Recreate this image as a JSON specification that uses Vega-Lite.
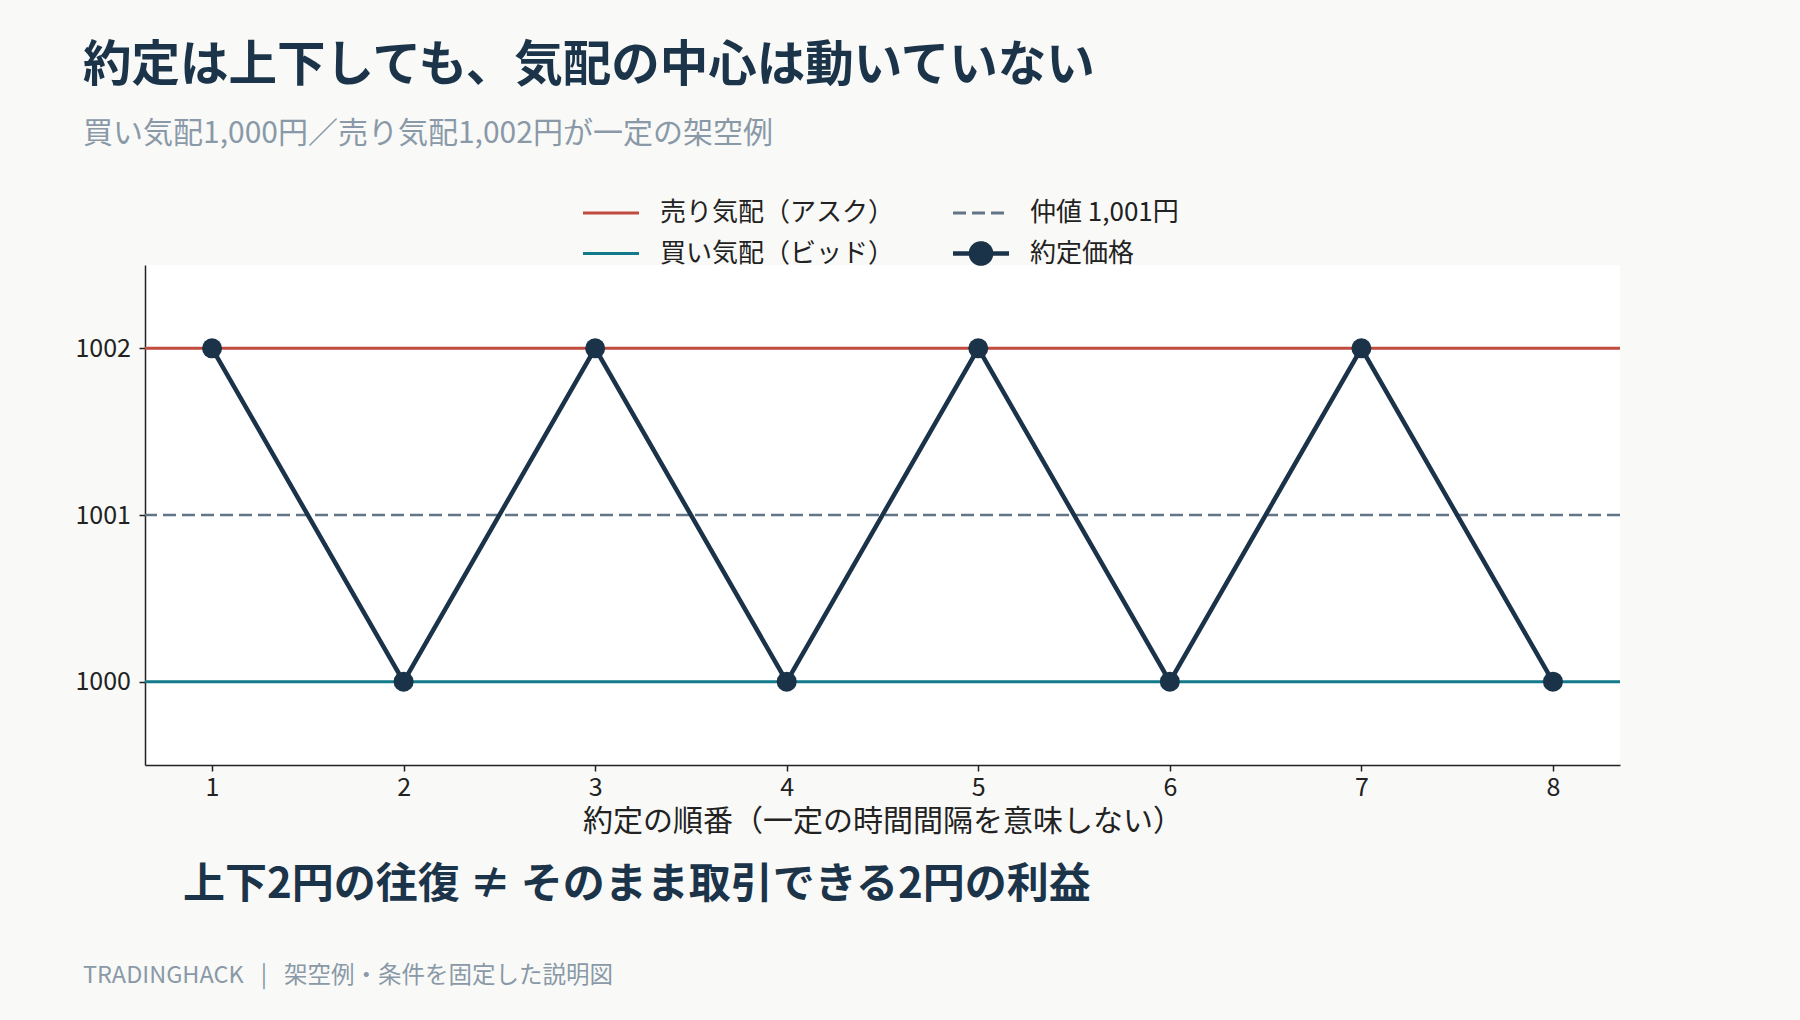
{
  "$schema": "https://vega.github.io/schema/vega-lite/v6.json",
  "width": 1475,
  "height": 500,
  "autosize": {"type": "none"},
  "padding": {"left": 145, "top": 265, "right": 180, "bottom": 255},
  "background": "#f9f9f7",
  "title": {
    "text": "約定は上下しても、気配の中心は動いていない",
    "subtitle": "買い気配1,000円／売り気配1,002円が一定の架空例",
    "anchor": "start",
    "frame": "group",
    "dx": -62,
    "offset": 50,
    "fontSize": 48.5,
    "fontWeight": "bold",
    "color": "#1b3449",
    "subtitleFontSize": 30,
    "subtitleColor": "#8a99a8",
    "subtitlePadding": 28
  },
  "config": {
    "font": "Noto Sans CJK JP",
    "view": {"fill": "#ffffff", "stroke": null},
    "axis": {
      "grid": false,
      "domainColor": "#222222",
      "domainWidth": 1.5,
      "tickColor": "#222222",
      "tickWidth": 1.5,
      "tickSize": 6,
      "labelFontSize": 25,
      "labelColor": "#222222",
      "labelFont": "Noto Sans CJK JP",
      "titleFontSize": 30,
      "titleFontWeight": "normal",
      "titleColor": "#222222"
    }
  },
  "datasets": {
    "levels": [
      {"series": "売り気配（アスク）", "price": 1002},
      {"series": "仲値 1,001円", "price": 1001},
      {"series": "買い気配（ビッド）", "price": 1000}
    ],
    "trades": [
      {"series": "約定価格", "n": 1, "price": 1002},
      {"series": "約定価格", "n": 2, "price": 1000},
      {"series": "約定価格", "n": 3, "price": 1002},
      {"series": "約定価格", "n": 4, "price": 1000},
      {"series": "約定価格", "n": 5, "price": 1002},
      {"series": "約定価格", "n": 6, "price": 1000},
      {"series": "約定価格", "n": 7, "price": 1002},
      {"series": "約定価格", "n": 8, "price": 1000}
    ]
  },
  "layer": [
    {
      "data": {"name": "levels"},
      "transform": [{"filter": "datum.price !== 1001"}],
      "mark": {"type": "rule", "strokeWidth": 3},
      "encoding": {
        "y": {
          "field": "price",
          "type": "quantitative",
          "scale": {"domain": [999.5, 1002.5], "nice": false, "zero": false},
          "axis": {"values": [1000, 1001, 1002], "format": "d", "title": null, "labelPadding": 8.5}
        },
        "color": {
          "field": "series",
          "type": "nominal",
          "scale": {
            "domain": ["売り気配（アスク）", "買い気配（ビッド）", "仲値 1,001円", "約定価格"],
            "range": ["#c04b3e", "#127a8a", "#627586", "#1a3349"]
          },
          "legend": {
            "title": null,
            "orient": "none",
            "legendX": 453,
            "legendY": -65,
            "columns": 2,
            "columnPadding": 49,
            "rowPadding": 7.5,
            "symbolType": "stroke",
            "symbolSize": 3136,
            "labelFontSize": 26,
            "labelLimit": 400,
            "labelColor": "#222222",
            "labelOffset": 36,
            "encode": {
              "symbols": {
                "update": {
                  "shape": {"signal": "datum.value === '約定価格' ? 'M-1,0L1,0M0.36,0A0.36,0.36 0 1,1 -0.36,0A0.36,0.36 0 1,1 0.36,0Z' : 'stroke'"},
                  "fill": {"signal": "datum.value === '約定価格' ? '#1a3349' : 'transparent'"},
                  "strokeDash": {"signal": "datum.value === '仲値 1,001円' ? [13, 6] : [1, 0]"},
                  "strokeWidth": {"signal": "datum.value === '約定価格' ? 4.5 : 3"}
                }
              }
            }
          }
        }
      }
    },
    {
      "data": {"name": "levels"},
      "transform": [{"filter": "datum.price === 1001"}],
      "mark": {"type": "rule", "strokeWidth": 2.5, "strokeDash": [13, 6]},
      "encoding": {
        "y": {"field": "price", "type": "quantitative"},
        "color": {"field": "series", "type": "nominal"}
      }
    },
    {
      "data": {"name": "trades"},
      "mark": {"type": "line", "strokeWidth": 4.5},
      "encoding": {
        "x": {
          "field": "n",
          "type": "quantitative",
          "scale": {"domain": [0.65, 8.35], "nice": false, "zero": false},
          "axis": {
            "values": [1, 2, 3, 4, 5, 6, 7, 8],
            "format": "d",
            "title": "約定の順番（一定の時間間隔を意味しない）",
            "labelPadding": 4,
            "titlePadding": 6
          }
        },
        "y": {"field": "price", "type": "quantitative"},
        "color": {"field": "series", "type": "nominal"}
      }
    },
    {
      "data": {"name": "trades"},
      "mark": {"type": "point", "filled": true, "opacity": 1, "size": 400},
      "encoding": {
        "x": {"field": "n", "type": "quantitative"},
        "y": {"field": "price", "type": "quantitative"},
        "color": {"field": "series", "type": "nominal"}
      }
    },
    {
      "data": {"values": [{"note": "上下2円の往復 ≠ そのまま取引できる2円の利益"}]},
      "mark": {"type": "text", "align": "left", "baseline": "middle", "fontSize": 42, "fontWeight": "bold", "color": "#1b3449"},
      "encoding": {
        "x": {"datum": 0.848, "type": "quantitative"},
        "y": {"datum": 998.78, "type": "quantitative"},
        "text": {"field": "note", "type": "nominal"}
      }
    },
    {
      "data": {"values": [{"note": "TRADINGHACK\u2002 |\u2002 架空例・条件を固定した説明図"}]},
      "mark": {"type": "text", "align": "left", "baseline": "middle", "fontSize": 23.5, "color": "#8a99a8"},
      "encoding": {
        "x": {"datum": 0.326, "type": "quantitative"},
        "y": {"datum": 998.236, "type": "quantitative"},
        "text": {"field": "note", "type": "nominal"}
      }
    }
  ]
}
